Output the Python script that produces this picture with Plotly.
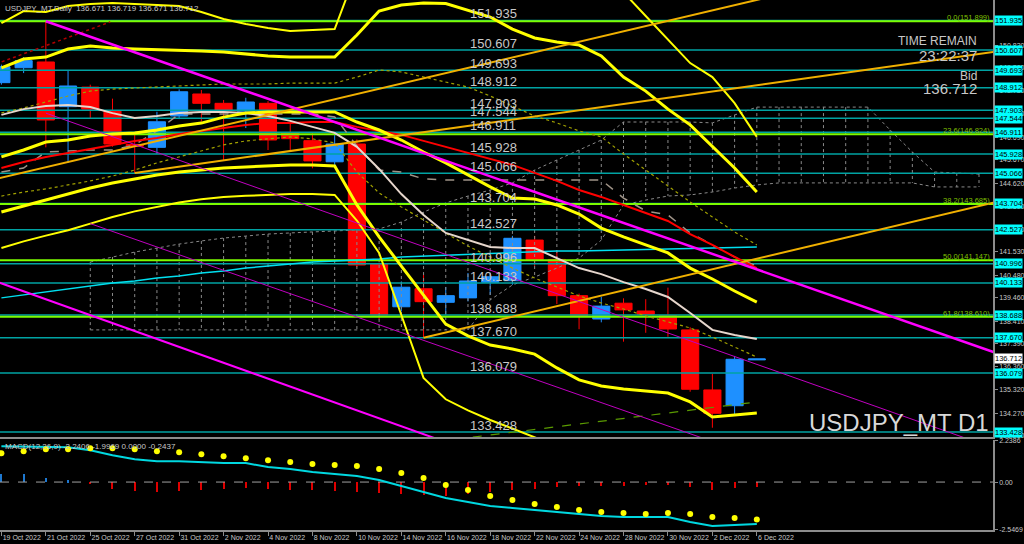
import plotly.graph_objects as go

# ---------------- data ----------------
bar_dates = ["19 Oct 2022","20 Oct 2022","21 Oct 2022","24 Oct 2022","25 Oct 2022","26 Oct 2022",
             "27 Oct 2022","28 Oct 2022","31 Oct 2022","1 Nov 2022","2 Nov 2022","3 Nov 2022",
             "4 Nov 2022","7 Nov 2022","8 Nov 2022","9 Nov 2022","10 Nov 2022","11 Nov 2022",
             "14 Nov 2022","15 Nov 2022","16 Nov 2022","17 Nov 2022","18 Nov 2022","21 Nov 2022",
             "22 Nov 2022","23 Nov 2022","24 Nov 2022","25 Nov 2022","28 Nov 2022","29 Nov 2022",
             "30 Nov 2022","1 Dec 2022","2 Dec 2022","5 Dec 2022","6 Dec 2022"]
opens  = [149.14,149.81,150.07,148.06,148.94,147.86,146.36,146.23,147.64,148.63,148.21,147.86,
          148.21,146.89,146.53,145.58,146.38,140.98,139.06,139.87,139.26,139.46,140.16,140.23,
          142.06,141.19,139.56,138.51,139.22,138.87,138.66,138.02,135.32,134.61,136.671]
highs  = [149.95,150.29,151.91,149.71,149.05,148.42,146.88,147.83,148.84,148.81,148.36,148.46,
          148.31,147.38,146.86,146.78,146.59,141.05,140.20,140.49,139.95,140.58,140.60,142.25,
          142.25,141.60,139.65,139.51,139.44,139.40,139.92,138.14,136.04,136.85,136.719]
lows   = [149.05,149.57,146.23,145.54,147.51,146.26,145.08,145.93,147.50,147.38,145.66,147.10,
          146.11,146.11,145.29,145.30,140.85,138.50,138.85,137.70,138.69,139.30,139.59,140.05,
          140.90,139.18,138.05,138.36,137.49,137.89,137.71,135.24,133.62,134.19,136.671]
closes = [149.86,150.13,147.46,148.99,147.95,146.38,146.28,147.38,148.73,148.21,147.88,148.27,
          146.56,146.62,145.62,146.38,140.94,138.69,139.94,139.29,139.56,140.22,140.41,142.14,
          141.19,139.56,138.66,139.09,138.92,138.72,138.06,135.35,134.27,136.70,136.712]

# horizontal price levels (objects) and fibonacci levels
levels = [151.935,150.607,149.693,148.912,147.903,147.544,146.911,145.928,145.066,143.704,
          142.527,140.996,140.133,138.688,137.670,136.079,133.428]
fib_levels = [151.899,146.824,143.685,141.147,138.610]
fib_names = ["0.0","23.6","38.2","50.0","61.8"]
bid_price = 136.712

# axis tick labels
price_ticks = [150.830,149.800,148.780,147.740,146.690,145.670,144.620,143.590,142.550,141.530,
               140.480,139.460,138.410,137.390,136.360,135.320,134.270,133.250]

# indicator lines (one value per bar)
band_outer_up = [151.82,152.36,152.32,152.59,152.68,152.72,152.68,152.63,152.59,152.32,152.00,151.78,
                 151.60,151.46,151.51,151.55,154.2,155.3,156.0,156.6,156.9,157.0,157.0,156.8,
                 156.4,155.8,155.1,154.2,153.2,152.14,151.06,150.02,149.39,148.22,146.70]
band_up = [149.80,150.20,150.29,150.65,150.79,150.70,150.65,150.63,150.61,150.56,150.52,150.43,
           150.34,150.29,150.29,150.29,151.28,152.36,152.63,152.72,152.70,152.41,152.09,151.55,
           151.15,150.97,150.83,150.34,149.39,148.76,147.95,147.24,146.29,145.30,144.22]
band_mid = [145.80,146.11,146.47,146.56,146.74,146.83,146.88,147.01,147.19,147.32,147.59,147.77,
            147.82,147.82,147.82,147.82,147.37,147.01,146.56,146.02,145.53,144.99,144.45,143.95,
            143.91,143.64,143.23,142.60,142.20,141.84,141.48,140.80,140.31,139.77,139.27]
band_low = [143.32,143.59,143.86,144.13,144.40,144.63,144.81,144.99,145.12,145.21,145.30,145.35,
            145.39,145.44,145.44,145.39,143.64,142.20,140.89,139.59,138.28,137.75,137.34,137.16,
            136.93,136.31,135.77,135.50,135.36,135.27,135.18,134.78,134.10,134.19,134.28]
band_outer_low = [141.70,142.00,142.26,142.50,142.80,143.10,143.35,143.55,143.75,143.90,144.00,144.05,
                  144.10,144.13,144.13,144.09,142.94,141.48,138.69,135.86,134.90,134.40,133.97,133.57,
                  133.16,132.80,132.50,132.30,132.10,131.90,131.70,131.50,131.30,131.10,130.90]
ma_red = [145.30,145.57,145.80,145.98,146.16,146.34,146.52,146.65,146.83,146.97,147.10,147.24,
          147.33,147.33,147.37,147.37,147.15,146.97,146.79,146.52,146.25,145.98,145.71,145.44,
          145.08,144.72,144.31,144.00,143.64,143.28,142.92,142.33,141.84,141.30,140.80]
ma_beige = [147.69,147.95,148.09,148.13,148.04,147.77,147.55,147.64,147.77,147.82,147.82,147.77,
            147.64,147.42,147.15,146.88,146.25,145.26,144.13,143.19,142.38,142.06,141.75,141.70,
            141.70,141.25,140.80,140.53,140.17,139.86,139.50,138.78,138.02,137.79,137.61]
kijun = [145.12,145.30,146.02,146.07,146.11,146.11,146.34,146.97,147.73,147.73,147.73,147.73,
         147.73,147.73,147.73,147.60,146.29,145.21,145.12,144.81,144.76,144.76,144.76,144.76,
         144.76,144.76,144.76,144.76,143.95,143.37,143.19,142.38,141.84,141.30,140.89]
ma_cyan = [139.46,139.59,139.72,139.86,139.99,140.13,140.22,140.35,140.44,140.58,140.67,140.80,
           140.89,140.98,141.07,141.12,141.16,141.21,141.30,141.34,141.39,141.43,141.48,141.52,
           141.55,141.57,141.57,141.59,141.61,141.64,141.66,141.68,141.70,141.73,141.75]
olive_up = [147.78,148.00,148.27,148.54,148.76,148.85,148.90,148.94,148.99,149.03,149.08,149.08,
            149.08,149.12,149.12,149.12,149.39,149.71,149.62,149.39,149.17,148.94,148.54,148.09,
            147.64,147.33,146.97,146.70,145.93,145.21,144.49,143.77,143.10,142.42,141.84]
olive_low = [144.04,144.22,144.36,144.54,144.72,144.94,145.21,145.53,145.80,146.07,146.34,146.52,
             146.61,146.70,146.61,146.43,145.12,144.18,143.55,142.96,142.38,141.79,141.30,140.80,
             140.35,139.95,139.55,139.23,138.96,138.65,138.38,138.11,137.70,137.25,136.80]

# ichimoku-like cloud (bars 4..44)
cloud_start = 4
span_top = [141.07,141.30,141.52,141.70,141.88,142.02,142.15,142.24,142.33,142.38,142.42,142.47,
            142.51,142.56,142.87,143.32,143.73,144.04,144.31,144.63,145.21,145.66,146.11,146.56,
            147.37,147.37,147.37,147.37,147.33,147.69,148.04,148.04,148.04,148.04,148.04,148.04,
            147.01,146.02,145.12,145.08,145.03]
span_bot = [138.02]*18 + [139.37,140.04,140.40,140.80,141.25,142.06,143.64,143.86,144.04,144.09,
            144.22,144.40,144.54,144.63,144.63,144.63,144.63,144.63,144.63,144.63,144.45,144.45,144.45]

# trend lines: (bar index, price) anchors
tl_magenta = [(2, 151.90), (34, 140.74)]
tl_magenta_thin1 = [(2, 147.77), (34, 136.47)]
tl_magenta_thin2 = [(13, 139.65), (31, 133.35)]
tl_magenta_low = [(0, 140.11), (19, 133.33)]
tl_orange1 = [(0, 144.87), (34, 152.86)]
tl_orange2 = [(6, 145.08), (34, 149.02)]
tl_orange3 = [(19, 137.67), (34, 141.22)]
tl_green = [(21, 133.17), (34, 134.78)]
tl_reddot = [(0, 150.07), (4.9, 151.87)]

# MACD panel
macd = [1.915,1.888,1.862,1.862,1.702,1.436,1.223,1.117,1.117,1.064,1.011,1.011,0.798,0.691,
        0.532,0.426,0.319,0.106,-0.213,-0.532,-0.851,-1.064,-1.277,-1.383,-1.489,-1.596,-1.702,
        -1.809,-1.862,-1.862,-1.862,-2.128,-2.340,-2.287,-2.2406]
signal = [1.543,1.649,1.755,1.755,1.809,1.809,1.755,1.649,1.596,1.489,1.383,1.277,1.170,1.064,
          0.957,0.904,0.851,0.691,0.479,0.213,-0.160,-0.426,-0.745,-0.957,-1.170,-1.330,-1.489,
          -1.596,-1.649,-1.702,-1.649,-1.702,-1.862,-1.915,-1.9969]
hist = [0.43,0.43,0.21,0.09,-0.09,-0.35,-0.50,-0.53,-0.46,-0.41,-0.35,-0.32,-0.35,-0.41,
        -0.45,-0.50,-0.55,-0.60,-0.65,-0.70,-0.72,-0.65,-0.55,-0.45,-0.35,-0.28,-0.22,-0.22,
        -0.22,-0.18,-0.18,-0.28,-0.42,-0.34,-0.2437]
macd_ticks = [2.2386, 0.0, -2.5469]
macd_ticktext = ["2.2386", "0.00", "-2.5469"]

# ---------------- figure ----------------
N = len(bar_dates)
idx = list(range(N))
X_MIN, X_MAX = -0.063, 44.63
FONT = "Liberation Sans, Arial, sans-serif"
fig = go.Figure()

def ray(anchors, i_from, i_to):
    (a0, p0), (a1, p1) = anchors
    s = (p1 - p0) / (a1 - a0)
    return [i_from, i_to], [p0 + s * (i_from - a0), p0 + s * (i_to - a0)]

def line(xs, ys, color, width, dash="solid", yaxis="y", xaxis="x"):
    fig.add_trace(go.Scatter(x=xs, y=ys, mode="lines", line=dict(color=color, width=width, dash=dash),
                             hoverinfo="skip", xaxis=xaxis, yaxis=yaxis))

# cloud hatching
cx = list(range(cloud_start, cloud_start + len(span_top)))
vx, vy = [], []
for i, a, b in zip(cx, span_top, span_bot):
    vx += [i, i, None]
    vy += [a, b, None]
line(vx, vy, "#8a8a8a", 1, "dot")
line(cx, span_top, "#8a8a8a", 1, "dot")
line(cx, span_bot, "#8a8a8a", 1, "dot")

# horizontal levels
for lv in levels:
    line([X_MIN, X_MAX], [lv, lv], "#00a3a3", 1.5)
for lv in fib_levels:
    line([X_MIN, X_MAX], [lv, lv], "#7cfc00", 2)

# candles
fig.add_trace(go.Candlestick(x=idx, open=opens, high=highs, low=lows, close=closes,
                             increasing=dict(line=dict(color="#1e90ff", width=1), fillcolor="#1e90ff"),
                             decreasing=dict(line=dict(color="#ff0000", width=1), fillcolor="#ff0000"),
                             whiskerwidth=0, hoverinfo="skip", xaxis="x", yaxis="y"))

# moving averages
line(idx, ma_cyan, "#00e0f0", 1.5)
line(idx, olive_up, "#a0a000", 1.2, "dot")
line(idx, olive_low, "#a0a000", 1.2, "dot")
line(idx, kijun, "#a09488", 1.5, "dash")
line(idx, ma_red, "#ff0000", 2)
line(idx, ma_beige, "#e6d6cc", 2)

# bands
line(idx, band_outer_up, "#ffff00", 2)
line(idx, band_outer_low, "#ffff00", 2)
line(idx, band_up, "#ffff00", 3)
line(idx, band_mid, "#ffff00", 3)
line(idx, band_low, "#ffff00", 3)

# trend lines
x, y = ray(tl_orange1, -1, 45); line(x, y, "#f0b000", 2)
x, y = ray(tl_orange2, 6, 45); line(x, y, "#f0b000", 2)
x, y = ray(tl_orange3, 19, 45); line(x, y, "#f0b000", 2)
x, y = ray(tl_green, 18, 34); line(x, y, "#5a9a00", 1.2, "dash")
x, y = ray(tl_reddot, -1, 4.9); line(x, y, "#b00000", 1.5, "dot")
x, y = ray(tl_magenta_thin1, 2, 45); line(x, y, "#c000c0", 1)
x, y = ray(tl_magenta_thin2, 4, 45); line(x, y, "#c000c0", 1)
x, y = ray(tl_magenta_low, -1, 21); line(x, y, "#ff00ff", 2)
x, y = ray(tl_magenta, 2, 45); line(x, y, "#ff00ff", 2.5)

# MACD
fig.add_trace(go.Bar(x=idx, y=hist, width=0.09, xaxis="x2", yaxis="y2", hoverinfo="skip",
                     marker=dict(color=["#1e78d0" if v >= 0 else "#e00000" for v in hist], line=dict(width=0))))
line([X_MIN, X_MAX], [0, 0], "#a0a0a0", 1, "dash", yaxis="y2", xaxis="x2")
line(idx, macd, "#00d8e0", 2, yaxis="y2", xaxis="x2")
fig.add_trace(go.Scatter(x=idx, y=signal, mode="markers", marker=dict(color="#ffff00", size=6),
                         hoverinfo="skip", xaxis="x2", yaxis="y2"))

# ---------------- annotations ----------------
ann = []
for lv in levels:
    ann.append(dict(x=21, y=lv, xref="x", yref="y", text=f"{lv:.3f}", showarrow=False,
                    xanchor="left", yanchor="bottom", yshift=-3,
                    font=dict(size=13, color="#c8c8c8", family=FONT)))
    ann.append(dict(x=1, y=lv, xref="paper", yref="y", text=f"{lv:.3f}", showarrow=False,
                    xanchor="left", yanchor="middle", xshift=1, bgcolor="#00ffff", borderpad=0,
                    font=dict(size=7.5, color="#000000", family=FONT)))
for lv, nm in zip(fib_levels, fib_names):
    ann.append(dict(x=1, y=lv, xref="paper", yref="y", text=f"{nm}({lv:.3f})", showarrow=False,
                    xanchor="right", yanchor="bottom", xshift=-1, yshift=-3,
                    font=dict(size=7.5, color="#80c000", family=FONT)))
ann.append(dict(x=1, y=bid_price, xref="paper", yref="y", text=f"{bid_price:.3f}", showarrow=False,
                xanchor="left", yanchor="middle", xshift=1, bgcolor="#ffffff", borderpad=0,
                font=dict(size=7.5, color="#000000", family=FONT)))

PH = 530.0
def py(pix):
    return 1 - pix / PH

ann.append(dict(x=0.003, y=py(2), xref="paper", yref="paper", xanchor="left", yanchor="top",
                text=f"USDJPY_MT,Daily  {opens[-1]:.3f} {highs[-1]:.3f} {lows[-1]:.3f} {closes[-1]:.3f}",
                showarrow=False, font=dict(size=8, color="#c8c8c8", family=FONT)))
ann.append(dict(x=0.003, y=py(440), xref="paper", yref="paper", xanchor="left", yanchor="top",
                text=f"MACD(12,26,9) {macd[-1]:.4f} {signal[-1]:.4f} 0.0000 {hist[-1]:.4f}",
                showarrow=False, font=dict(size=8, color="#c8c8c8", family=FONT)))
xr = 979 / 993
ann.append(dict(x=xr, y=py(41), xref="paper", yref="paper", xanchor="right", yanchor="middle",
                text="TIME REMAIN", showarrow=False, font=dict(size=12, color="#c8c8c8", family=FONT)))
ann.append(dict(x=xr, y=py(56), xref="paper", yref="paper", xanchor="right", yanchor="middle",
                text="23:22:37", showarrow=False, font=dict(size=15, color="#c8c8c8", family=FONT)))
ann.append(dict(x=xr, y=py(76), xref="paper", yref="paper", xanchor="right", yanchor="middle",
                text="Bid", showarrow=False, font=dict(size=12, color="#c8c8c8", family=FONT)))
ann.append(dict(x=xr, y=py(89), xref="paper", yref="paper", xanchor="right", yanchor="middle",
                text=f"{bid_price:.3f}", showarrow=False, font=dict(size=15, color="#c8c8c8", family=FONT)))
ann.append(dict(x=991 / 993, y=py(422), xref="paper", yref="paper", xanchor="right", yanchor="middle",
                text="USDJPY_MT D1", showarrow=False, font=dict(size=24, color="#d8d8d8", family=FONT)))

main_lo = 1 - 437 / PH
macd_hi = 90 / PH
axis_common = dict(showgrid=False, zeroline=False, automargin=False)
fig.update_layout(
    width=1024, height=544, margin=dict(l=0, r=31, t=0, b=14, autoexpand=False),
    paper_bgcolor="#000000", plot_bgcolor="#000000", showlegend=False,
    bargap=0, boxgap=0.23, boxgroupgap=0,
    xaxis=dict(domain=[0, 1], anchor="y", range=[X_MIN, X_MAX], showticklabels=False, ticks="",
               showline=True, linecolor="#8c8c8c", linewidth=2, rangeslider=dict(visible=False),
               **axis_common),
    xaxis2=dict(domain=[0, 1], anchor="y2", range=[X_MIN, X_MAX], matches="x",
                tickvals=idx[::2], ticktext=bar_dates[::2], ticklabelposition="outside right",
                tickangle=0, ticks="outside", ticklen=4, tickcolor="#8c8c8c", showline=True,
                linecolor="#8c8c8c", linewidth=1.5,
                tickfont=dict(size=7, color="#c8c8c8", family=FONT), **axis_common),
    yaxis=dict(domain=[main_lo, 1], anchor="x", side="right", range=[133.203, 152.857],
               tickvals=price_ticks, ticktext=[f"{v:.3f}" for v in price_ticks],
               ticks="outside", ticklen=3, tickcolor="#8c8c8c", showline=True, linecolor="#8c8c8c",
               linewidth=1.5, tickfont=dict(size=7, color="#c8c8c8", family=FONT), **axis_common),
    yaxis2=dict(domain=[0, macd_hi], anchor="x2", side="right", range=[-2.56, 2.245],
                tickvals=macd_ticks, ticktext=macd_ticktext, ticks="outside", ticklen=3,
                tickcolor="#8c8c8c", showline=True, linecolor="#8c8c8c", linewidth=1.5,
                tickfont=dict(size=7, color="#c8c8c8", family=FONT), **axis_common),
    annotations=ann,
)
fig.write_html("out.html", config={"displayModeBar": False},
               post_script="document.body.style.margin='0px';document.body.style.overflow='hidden';"
                           "document.body.style.background='#000';")
